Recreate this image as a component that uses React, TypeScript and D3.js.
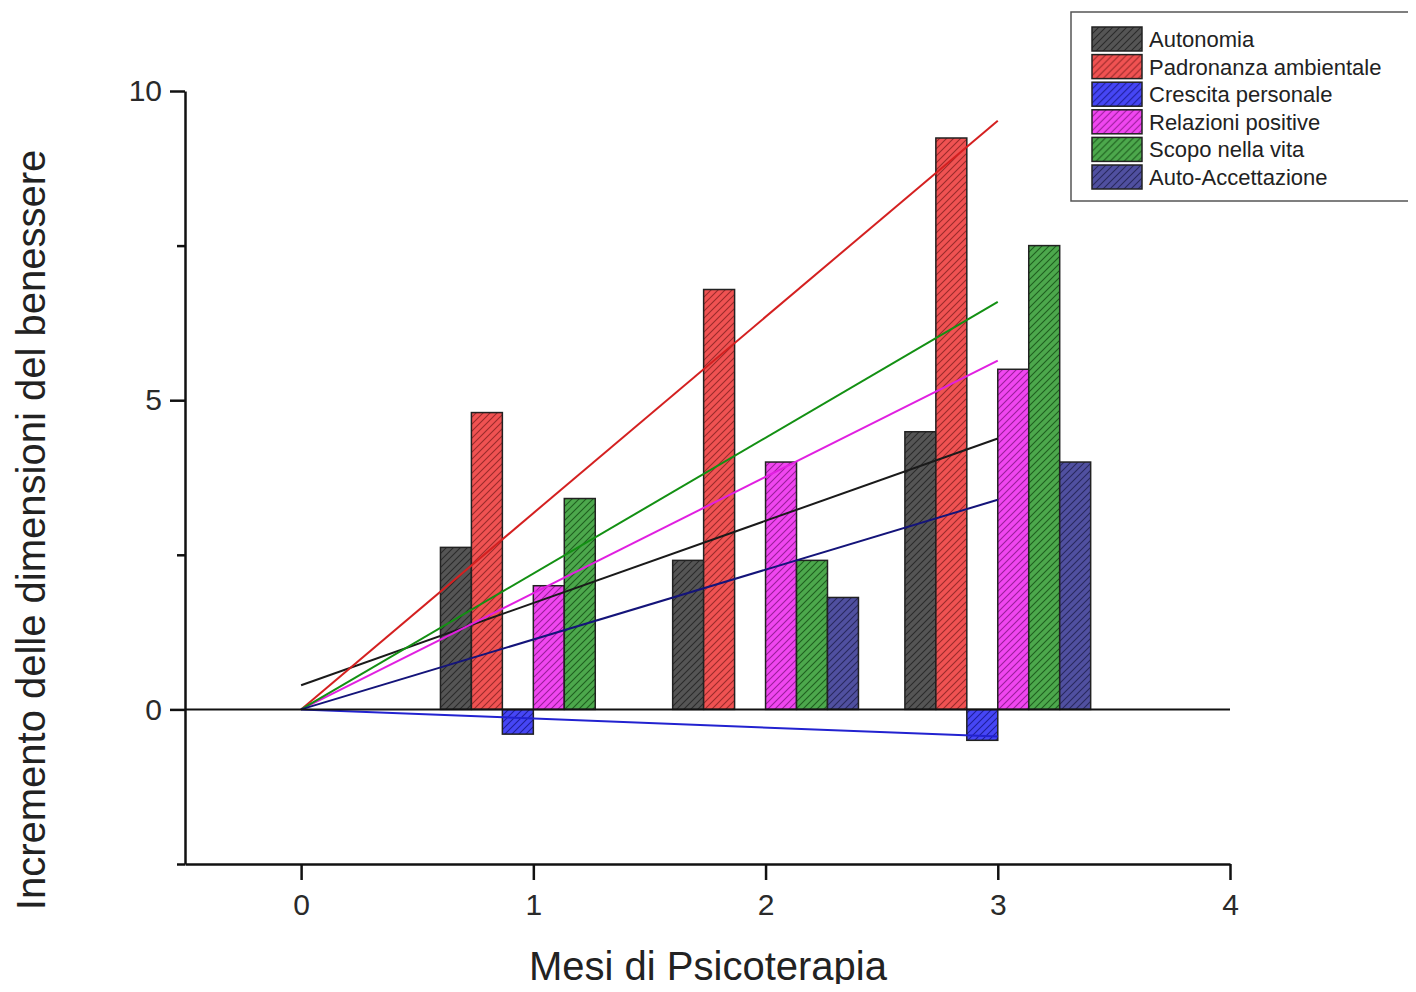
import { useEffect, useRef } from "react";
import * as d3 from "d3";

// mesi (centro di ogni gruppo di barre)
const months = [1, 2, 3];

const seriesNames = [
  "Autonomia",
  "Padronanza ambientale",
  "Crescita personale",
  "Relazioni positive",
  "Scopo nella vita",
  "Auto-Accettazione",
];

// valori per mese 1, 2, 3
const autonomia = [2.62, 2.41, 4.49];
const padronanza = [4.8, 6.79, 9.24];
const crescita = [-0.4, 0, -0.5];
const relazioni = [2.0, 4.0, 5.5];
const scopo = [3.41, 2.41, 7.5];
const autoAccettazione = [0, 1.81, 4.0];

// rette di tendenza: valore a x=0 e a x=3
const trendStart = [0.39, 0, 0, 0, 0, 0];
const trendEnd = [4.38, 9.52, -0.44, 5.64, 6.59, 3.39];

const yTicks = [0, 5, 10];
const yMinorTicks = [-2.5, 2.5, 7.5];
const xTicks = [0, 1, 2, 3, 4];

const fillColors = ["#555555", "#f05252", "#4646f5", "#f046f0", "#4ca84c", "#5050a0"];
const hatchColors = ["#2a2a2a", "#9a2a2a", "#1e1e9a", "#9a1e9a", "#1e5e1e", "#28285e"];
const lineColors = ["#1a1a1a", "#d42020", "#2222d0", "#e020e0", "#139013", "#14147a"];

const App = () => {
  const svgRef = useRef<SVGSVGElement>(null);

  useEffect(() => {
    if (!svgRef.current) return;
    const svg = d3.select(svgRef.current);
    svg.selectAll("*").remove();

    const values = [autonomia, padronanza, crescita, relazioni, scopo, autoAccettazione];

    const x = d3.scaleLinear().domain([-0.5, 4]).range([185, 1230]);
    const y = d3.scaleLinear().domain([-2.5, 10]).range([864, 91]);
    const barW = 0.8 / seriesNames.length;

    // pattern tratteggiati
    const defs = svg.append("defs");
    seriesNames.forEach((_, i) => {
      const p = defs
        .append("pattern")
        .attr("id", `hatch-${i}`)
        .attr("patternUnits", "userSpaceOnUse")
        .attr("width", 7)
        .attr("height", 7);
      p.append("rect").attr("width", 7).attr("height", 7).attr("fill", fillColors[i]);
      p.append("path")
        .attr("d", "M-1,1 l2,-2 M0,7 l7,-7 M6,8 l2,-2")
        .attr("stroke", hatchColors[i])
        .attr("stroke-width", 1.1);
    });

    const font = "'Liberation Sans', Arial, sans-serif";

    // barre
    seriesNames.forEach((_, i) => {
      svg
        .append("g")
        .selectAll("rect")
        .data(months.map((m, j) => ({ m, v: values[i][j] })).filter((d) => d.v !== 0))
        .enter()
        .append("rect")
        .attr("x", (d) => x(d.m - 0.4 + i * barW))
        .attr("width", x(barW) - x(0))
        .attr("y", (d) => y(Math.max(0, d.v)))
        .attr("height", (d) => Math.abs(y(d.v) - y(0)))
        .attr("fill", `url(#hatch-${i})`)
        .attr("stroke", "#222")
        .attr("stroke-width", 1.5);
    });

    // rette
    seriesNames.forEach((_, i) => {
      svg
        .append("line")
        .attr("x1", x(0))
        .attr("y1", y(trendStart[i]))
        .attr("x2", x(3))
        .attr("y2", y(trendEnd[i]))
        .attr("stroke", lineColors[i])
        .attr("stroke-width", 2);
    });

    // linea dello zero
    svg
      .append("line")
      .attr("x1", x(-0.5))
      .attr("x2", x(4))
      .attr("y1", y(0))
      .attr("y2", y(0))
      .attr("stroke", "#111")
      .attr("stroke-width", 2);

    // assi
    const xAxis = svg
      .append("g")
      .attr("transform", `translate(0, ${y(-2.5)})`)
      .call(
        d3
          .axisBottom(x)
          .tickValues(xTicks)
          .tickFormat(d3.format("d"))
          .tickSize(16)
          .tickSizeOuter(0)
          .tickPadding(14)
      );
    const yAxis = svg
      .append("g")
      .attr("transform", `translate(${x(-0.5)}, 0)`)
      .call(d3.axisLeft(y).tickValues(yTicks).tickSize(15).tickSizeOuter(0).tickPadding(8));
    svg
      .append("g")
      .attr("transform", `translate(${x(-0.5)}, 0)`)
      .call(d3.axisLeft(y).tickValues(yMinorTicks).tickSize(8).tickSizeOuter(0).tickFormat(() => ""))
      .call((g) => g.select(".domain").remove())
      .selectAll(".tick line")
      .attr("stroke", "#111")
      .attr("stroke-width", 2.5);
    [xAxis, yAxis].forEach((a) => {
      a.select(".domain").attr("stroke", "#111").attr("stroke-width", 2.5);
      a.selectAll(".tick line").attr("stroke", "#111").attr("stroke-width", 2.5);
      a.selectAll(".tick text")
        .attr("fill", "#2a2a2a")
        .style("font-family", font)
        .style("font-size", "30px");
    });

    // titoli assi
    svg
      .append("text")
      .attr("x", 708)
      .attr("y", 980)
      .attr("text-anchor", "middle")
      .style("font-family", font)
      .style("font-size", "40px")
      .attr("fill", "#222")
      .text("Mesi di Psicoterapia");
    svg
      .append("text")
      .attr("transform", "translate(45, 530) rotate(-90)")
      .attr("text-anchor", "middle")
      .style("font-family", font)
      .style("font-size", "40px")
      .attr("fill", "#222")
      .text("Incremento delle dimensioni del benessere");

    // legenda
    const legend = svg.append("g").attr("transform", "translate(1071, 12)");
    legend
      .append("rect")
      .attr("width", 400)
      .attr("height", 189)
      .attr("fill", "#fff")
      .attr("stroke", "#555")
      .attr("stroke-width", 1.5);
    const items = legend
      .selectAll(".legend-item")
      .data(seriesNames)
      .enter()
      .append("g")
      .attr("transform", (_, i) => `translate(21, ${15 + i * 27.6})`);
    items
      .append("rect")
      .attr("width", 50)
      .attr("height", 24)
      .attr("fill", (_, i) => `url(#hatch-${i})`)
      .attr("stroke", "#222")
      .attr("stroke-width", 1.5);
    items
      .append("text")
      .attr("x", 57)
      .attr("y", 20)
      .style("font-family", font)
      .style("font-size", "22px")
      .attr("fill", "#222")
      .text((d) => d);
  }, []);

  return (
    <div style={{ margin: -8 }}>
      <svg ref={svgRef} width={1416} height={992} style={{ display: "block" }}></svg>
    </div>
  );
};

export default App;
